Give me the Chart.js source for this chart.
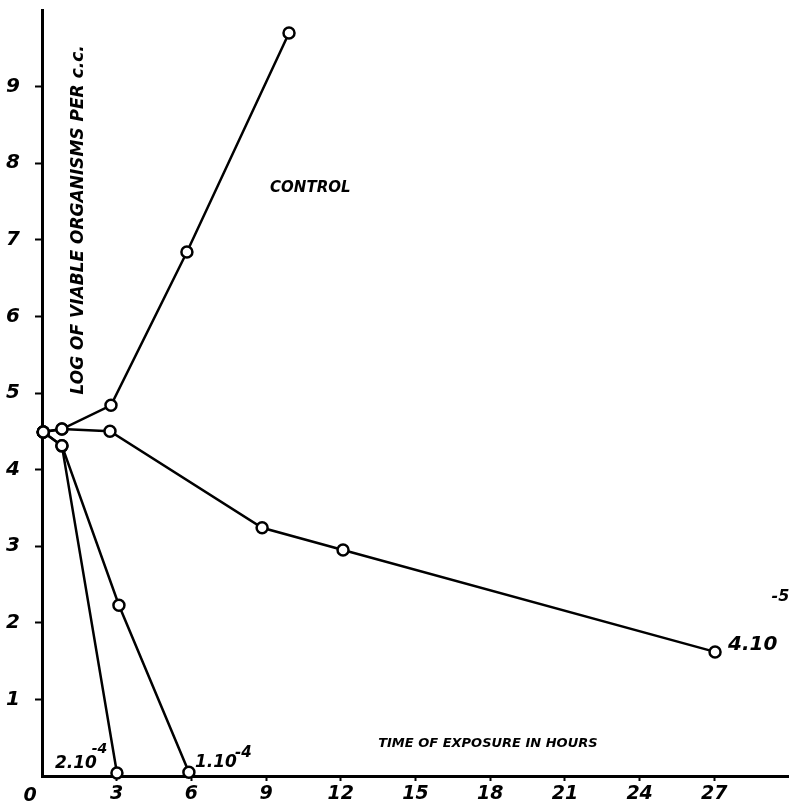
<!DOCTYPE html>
<html>
<head>
<meta charset="utf-8">
<script src="https://cdn.jsdelivr.net/npm/chart.js@4/dist/chart.umd.min.js"></script>
<style>
  html, body { margin: 0; padding: 0; background: #fff; }
  #wrap { width: 789px; height: 808px; position: relative; }
</style>
</head>
<body>
<div id="wrap"><canvas id="chart"></canvas></div>
<script>
// hours of exposure and log of viable organisms per c.c.
var controlHours = [0.05, 0.8, 2.77, 5.82, 9.92];
var controlLog   = [4.49, 4.53, 4.84, 6.84, 9.7];

var conc4e5Hours = [0.05, 0.8, 2.73, 8.84, 12.09, 27.03];
var conc4e5Log   = [4.49, 4.53, 4.5, 3.24, 2.95, 1.62];

var conc1e4Hours = [0.05, 0.8, 3.09, 5.9];
var conc1e4Log   = [4.49, 4.31, 2.23, 0.05];

var conc2e4Hours = [0.05, 0.8, 3.01];
var conc2e4Log   = [4.49, 4.31, 0.04];

var xTicks = [3, 6, 9, 12, 15, 18, 21, 24, 27];
var yTicks = [1, 2, 3, 4, 5, 6, 7, 8, 9];

var FONT = '"DejaVu Sans", sans-serif';

function pts(xs, ys) {
    return xs.map(function(x, i){ return {x: x, y: ys[i]}; });
}

function series(label, xs, ys) {
    return {
        label: label,
        data: pts(xs, ys),
        borderColor: '#000',
        borderWidth: 2.5,
        backgroundColor: '#fff',
        pointRadius: 5.5,
        pointBorderWidth: 2.5,
        pointBackgroundColor: '#fff',
        pointBorderColor: '#000',
        tension: 0,
        clip: false
    };
}

// hand lettered notes drawn on the plot
var notes = {
    id: 'notes',
    afterDatasetsDraw: function(chart){
        var c = chart.ctx, sx = chart.scales.x, sy = chart.scales.y;
        function txt(s, x, y, size, align, base){
            c.font = 'italic bold ' + size + 'px ' + FONT;
            c.textAlign = align || 'left';
            c.textBaseline = base || 'alphabetic';
            c.fillStyle = '#000';
            c.fillText(s, x, y);
        }
        c.save();
        txt('CONTROL', sx.getPixelForValue(9.16), sy.getPixelForValue(7.62), 15);
        txt('4.10', sx.getPixelForValue(27.55), sy.getPixelForValue(1.64), 20);
        txt('-5', sx.getPixelForValue(29.3), sy.getPixelForValue(2.28), 16);
        txt('2.10', sx.getPixelForValue(0.52), sy.getPixelForValue(0.1), 17);
        txt('-4', sx.getPixelForValue(2.0), sy.getPixelForValue(0.3), 14);
        txt('1.10', sx.getPixelForValue(6.14), sy.getPixelForValue(0.12), 17);
        txt('-4', sx.getPixelForValue(7.75), sy.getPixelForValue(0.25), 15);
        txt('TIME OF EXPOSURE IN HOURS', sx.getPixelForValue(13.5), sy.getPixelForValue(0.38), 13);
        // corner zero
        txt('0', sx.left - 12, sx.top + 20, 19, 'center', 'middle');
        // rotated y title inside the plot
        c.translate(sx.getPixelForValue(1.45), sy.getPixelForValue(7.26));
        c.rotate(-Math.PI / 2);
        txt('LOG OF VIABLE ORGANISMS PER c.c.', 0, 0, 17, 'center', 'middle');
        c.restore();
    }
};

new Chart(document.getElementById('chart'), {
    type: 'line',
    data: {
        datasets: [
            series('Control', controlHours, controlLog),
            series('4.10-5', conc4e5Hours, conc4e5Log),
            series('1.10-4', conc1e4Hours, conc1e4Log),
            series('2.10-4', conc2e4Hours, conc2e4Log)
        ]
    },
    options: {
        responsive: true,
        maintainAspectRatio: false,
        animation: false,
        layout: { autoPadding: false, padding: { top: 10, right: 0, left: 0, bottom: 0 } },
        plugins: {
            legend: { display: false },
            tooltip: { enabled: false }
        },
        scales: {
            x: {
                type: 'linear',
                min: 0,
                max: 30,
                afterBuildTicks: function(axis){
                    axis.ticks = xTicks.map(function(v){ return {value: v}; });
                },
                afterFit: function(axis){
                    axis.height = 32;
                    axis.paddingLeft = 0;
                    axis.paddingRight = 0;
                },
                grid: { drawOnChartArea: false, drawTicks: true, tickLength: 5, tickColor: '#000', tickWidth: 2 },
                border: { color: '#000', width: 3 },
                ticks: {
                    color: '#000',
                    padding: 2,
                    maxRotation: 0,
                    autoSkip: false,
                    font: { family: FONT, size: 19, style: 'italic', weight: 'bold' }
                }
            },
            y: {
                min: 0,
                max: 10,
                afterBuildTicks: function(axis){
                    axis.ticks = yTicks.map(function(v){ return {value: v}; });
                },
                afterFit: function(axis){
                    axis.width = 42;
                    axis.paddingTop = 0;
                    axis.paddingBottom = 0;
                },
                grid: { drawOnChartArea: false, drawTicks: true, tickLength: 7, tickColor: '#000', tickWidth: 2 },
                border: { color: '#000', width: 3 },
                ticks: {
                    color: '#000',
                    padding: 15,
                    autoSkip: false,
                    font: { family: FONT, size: 20, style: 'italic', weight: 'bold' }
                }
            }
        }
    },
    plugins: [notes]
});
</script>
</body>
</html>
